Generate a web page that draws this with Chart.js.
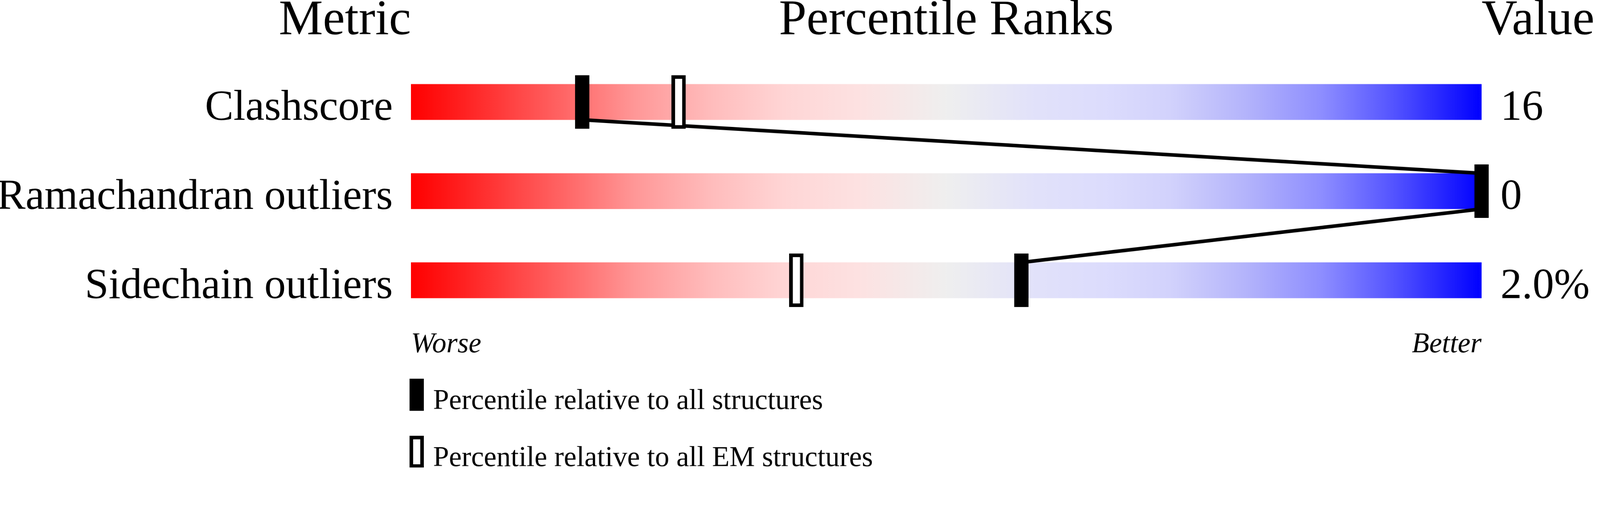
<!DOCTYPE html>
<html>
<head>
<meta charset="utf-8">
<title>Percentile Ranks</title>
<script src="https://cdn.jsdelivr.net/npm/chart.js"></script>
<style>
    html, body { margin: 0; padding: 0; background: #fff; overflow: hidden; }
    #chart { display: block; }
</style>
</head>
<body>
<!-- backing store is the full 4485x1311 picture, shown at the window width -->
<canvas id="chart" width="4485" height="1311" style="width:100vw;height:calc(100vw * 1311 / 4485)"></canvas>
<script>
// Chart data
const metrics = ['Clashscore', 'Ramachandran outliers', 'Sidechain outliers'];
const metricValues = ['16', '0', '2.0%'];
const percentileAll = [16, 100, 57];
const percentileEM = [25, 100, 36];
const headers = ['Metric', 'Percentile Ranks', 'Value'];
const scaleEnds = ['Worse', 'Better'];
const legendLabels = ['Percentile relative to all structures', 'Percentile relative to all EM structures'];

// Styles
const SERIF = '"Liberation Serif", "Times New Roman", serif';
const BAR_HALF = 0.2; // half of bar thickness in row units (100px / 250px)
const gradientStops = [
    [0.00, '#ff0000'], [0.05, '#ff2222'], [0.10, '#ff4747'], [0.16, '#ff7272'],
    [0.21, '#ff9898'], [0.28, '#ffbcbc'], [0.35, '#ffd6d6'], [0.42, '#fde2e2'],
    [0.50, '#efefef'], [0.58, '#e2e2fa'], [0.65, '#dcdcfd'], [0.71, '#d2d2fc'],
    [0.78, '#b4b4fb'], [0.85, '#8e8eff'], [0.92, '#5252ff'], [1.00, '#0000ff']
];

function makeMarker(w, h, hollow) {
    const c = document.createElement('canvas');
    c.width = w;
    c.height = h;
    const g = c.getContext('2d');
    g.fillStyle = '#000';
    g.fillRect(0, 0, w, h);
    if (hollow) {
        g.fillStyle = '#fff';
        g.fillRect(10, 10, w - 20, h - 20);
    }
    return c;
}

const markerAll = makeMarker(40, 150, false);
const markerEM = makeMarker(40, 150, true);
const legendAll = makeMarker(40, 90, false);
const legendEM = makeMarker(40, 90, true);

// Line joining the "all structures" markers: bottom of one bar to top of the next
function connectorPoints() {
    const pts = [];
    for (let i = 0; i < percentileAll.length - 1; i++) {
        pts.push({ x: percentileAll[i], y: i + BAR_HALF });
        pts.push({ x: percentileAll[i + 1], y: i + 1 - BAR_HALF });
    }
    return pts;
}

function barGradient(context) {
    const chart = context.chart;
    if (!chart.chartArea) return null;
    const xs = chart.scales.x;
    const g = chart.ctx.createLinearGradient(xs.getPixelForValue(0), 0, xs.getPixelForValue(100), 0);
    gradientStops.forEach(s => g.addColorStop(s[0], s[1]));
    return g;
}

// Texts: headers, row labels, values, scale ends, legend
const textPlugin = {
    id: 'sliderText',
    afterDraw(chart) {
        const ctx = chart.ctx;
        const xs = chart.scales.x;
        const ys = chart.scales.y;
        const left = xs.getPixelForValue(0);
        const right = xs.getPixelForValue(100);
        ctx.save();
        ctx.fillStyle = '#000';
        ctx.textBaseline = 'alphabetic';

        ctx.font = '139px ' + SERIF;
        ctx.textAlign = 'right';
        ctx.fillText(headers[0], left, 96);
        ctx.textAlign = 'center';
        ctx.fillText(headers[1], (left + right) / 2, 96);
        ctx.textAlign = 'left';
        ctx.fillText(headers[2], right, 96);

        ctx.font = '120px ' + SERIF;
        metrics.forEach((m, i) => {
            const base = ys.getPixelForValue(i + BAR_HALF);
            ctx.textAlign = 'right';
            ctx.fillText(m, left - 51, base);
            ctx.textAlign = 'left';
            ctx.fillText(metricValues[i], right + 53, base);
        });

        const lastBottom = ys.getPixelForValue(metrics.length - 1 + BAR_HALF);
        ctx.font = 'italic 80px ' + SERIF;
        ctx.textAlign = 'left';
        ctx.fillText(scaleEnds[0], left, lastBottom + 152);
        ctx.textAlign = 'right';
        ctx.fillText(scaleEnds[1], right, lastBottom + 152);

        ctx.font = '80px ' + SERIF;
        ctx.textAlign = 'left';
        [legendAll, legendEM].forEach((img, i) => {
            const top = lastBottom + 226 + i * 160;
            ctx.drawImage(img, left - 4, top);
            ctx.fillText(legendLabels[i], left + 62, top + 85);
        });
        ctx.restore();
    }
};

new Chart(document.getElementById('chart'), {
    data: {
        datasets: [
            {
                type: 'bar',
                indexAxis: 'y',
                data: metrics.map((m, i) => ({ x: [0, 100], y: i })),
                backgroundColor: barGradient,
                borderWidth: 0,
                barThickness: 100,
                order: 4
            },
            {
                type: 'line',
                data: connectorPoints(),
                borderColor: '#000',
                borderWidth: 10,
                borderJoinStyle: 'bevel',
                pointRadius: 0,
                tension: 0,
                fill: false,
                clip: false,
                order: 3
            },
            {
                type: 'scatter',
                label: legendLabels[1],
                data: percentileEM.map((p, i) => ({ x: p, y: i })),
                pointStyle: markerEM,
                pointRadius: 20,
                clip: false,
                order: 2
            },
            {
                type: 'scatter',
                label: legendLabels[0],
                data: percentileAll.map((p, i) => ({ x: p, y: i })),
                pointStyle: markerAll,
                pointRadius: 20,
                clip: false,
                order: 1
            }
        ]
    },
    options: {
        responsive: false,
        devicePixelRatio: 1,
        animation: false,
        events: [],
        layout: { autoPadding: false, padding: { left: 1152, right: 332, top: 0, bottom: 0 } },
        scales: {
            x: { type: 'linear', min: 0, max: 100, display: false, offset: false },
            y: { type: 'linear', min: -1.144, max: 4.1, reverse: true, display: false, offset: false }
        },
        plugins: {
            legend: { display: false },
            tooltip: { enabled: false }
        }
    },
    plugins: [textPlugin]
});
</script>
</body>
</html>
